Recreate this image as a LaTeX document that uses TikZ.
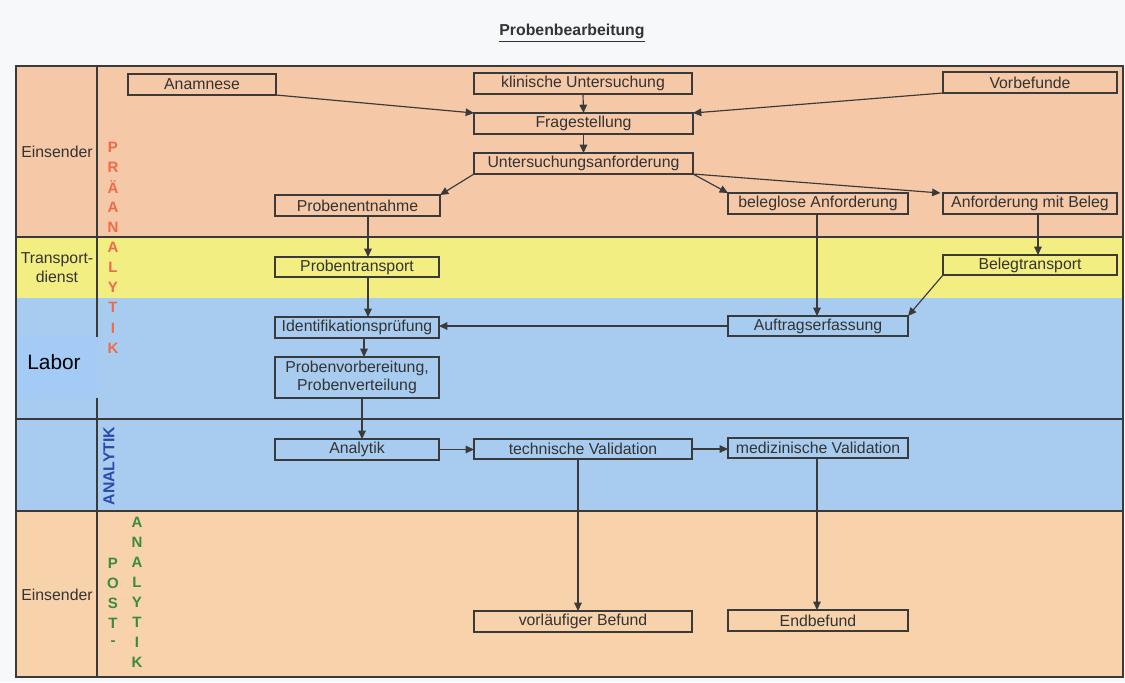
\documentclass[tikz,border=0pt]{standalone}
\usepackage{fontspec}
\setmainfont{Liberation Sans}
\usetikzlibrary{arrows.meta}
\definecolor{bgc}{HTML}{F7F8FA}
\definecolor{peachA}{HTML}{F5C8A8}
\definecolor{peachB}{HTML}{F7D2AA}
\definecolor{yellowband}{HTML}{F3EE82}
\definecolor{blueband}{HTML}{A8CCF0}
\definecolor{laborblue}{HTML}{A4CBF6}
\definecolor{linec}{HTML}{3A3A3A}
\definecolor{txtc}{HTML}{333333}
\definecolor{preorange}{HTML}{F06A4A}
\definecolor{postgreen}{HTML}{3A8C3A}
\definecolor{anablue}{HTML}{2B4AAE}
\newcommand\mybox[6]{\node[box,minimum width={(#4-#2)*0.6pt},minimum height={(#5-#3)*0.6pt}] (#1) at ({(#2+#4)/2},{(#3+#5)/2}) {#6};}
\begin{document}
\begin{tikzpicture}[x=0.6pt,y=-0.6pt,
  box/.style={draw=linec,line width=0.7pt,inner sep=0pt,outer sep=0pt,font=\fontsize{9.5}{11}\selectfont,text=txtc,align=center},
  arr/.style={draw=linec,line width=0.7pt,-{Triangle[length=5pt,width=4.5pt]}},
  sep/.style={draw=linec,line width=1.3pt},
  side/.style={font=\fontsize{9.5}{11.5}\selectfont,text=txtc,align=center},
  pre/.style={font=\bfseries\fontsize{9}{10}\selectfont,text=preorange},
  post/.style={font=\bfseries\fontsize{9}{10}\selectfont,text=postgreen}]
\useasboundingbox (0,0) rectangle (1125,682);
\fill[bgc] (0,0) rectangle (1125,682);
% bands
\fill[peachA] (16,66) rectangle (1123,237);
\fill[yellowband] (16,237) rectangle (1123,298);
\fill[blueband] (16,298) rectangle (1123,511);
\fill[peachB] (16,511) rectangle (1123,677);
% lines
\draw[sep] (16,66) rectangle (1123,677);
\draw[sep] (16,237) -- (1123,237);
\draw[sep] (16,419) -- (1123,419);
\draw[sep] (16,511) -- (1123,511);
\draw[sep] (97,66) -- (97,677);
% Labor patch
\fill[laborblue] (18,337) rectangle (98,398);
\node[font=\fontsize{12.5}{14}\selectfont,text=black] (labor) at (54,362) {Labor};
% title
\node[font=\bfseries\fontsize{9.5}{11}\selectfont,text=txtc] (title) at (572,33) {\underline{Probenbearbeitung}};
% side labels
\node[side] (eins1) at (57,152) {Einsender};
\node[side] (trans) at (57,268) {Transport-\\dienst};
\node[side] (eins2) at (57,595) {Einsender};
% phase letters
\foreach \l [count=\i from 0] in {P,R,Ä,A,N,A,L,Y,T,I,K}
  \node[pre] (pre\i) at (113,147+20.1*\i) {\l};
\foreach \l [count=\i from 0] in {P,O,S,T,-}
  \node[post] (posta\i) at (113,563+20*\i) {\l};
\foreach \l [count=\i from 0] in {A,N,A,L,Y,T,I,K}
  \node[post] (postb\i) at (137,522+20.1*\i) {\l};
\node[font=\bfseries\fontsize{9.5}{11}\selectfont,text=anablue,rotate=90] (ana) at (109,466) {ANALYTIK};
% boxes
\mybox{anam}{128}{74}{276}{95}{Anamnese}
\mybox{klin}{474}{73}{692}{94}{klinische Untersuchung}
\mybox{vorb}{943}{72}{1117}{93}{Vorbefunde}
\mybox{frage}{474}{113}{693}{134}{Fragestellung}
\mybox{unters}{474}{153}{693}{174}{Untersuchungsanforderung}
\mybox{entn}{275}{195}{440}{216}{Probenentnahme}
\mybox{belegl}{728}{193}{908}{214}{beleglose Anforderung}
\mybox{mitbeleg}{943}{193}{1117}{214}{Anforderung mit Beleg}
\mybox{ptrans}{275}{257}{439}{277}{Probentransport}
\mybox{btrans}{943}{255}{1117}{275}{Belegtransport}
\mybox{ident}{275}{317}{439}{338}{Identifikationsprüfung}
\mybox{auftrag}{728}{316}{908}{336}{Auftragserfassung}
\mybox{vorber}{275}{357}{439}{398}{Probenvorbereitung,\\Probenverteilung}
\mybox{analytik}{275}{439}{439}{460}{Analytik}
\mybox{techn}{474}{439}{692}{459}{technische Validation}
\mybox{med}{728}{438}{908}{458}{medizinische Validation}
\mybox{vorl}{474}{611}{692}{632}{vorläufiger Befund}
\mybox{endb}{728}{610}{908}{631}{Endbefund}
% helper x coordinates
\coordinate (x368) at (368,0);
\coordinate (x364) at (364,0);
\coordinate (x362) at (362,0);
\coordinate (x1038) at (1038,0);
\coordinate (x578) at (578,0);
\coordinate (x817) at (817,0);
% connectors
\draw[arr] (anam.south east) -- (frage.north west);
\draw[arr] (klin.south) -- (frage.north);
\draw[arr] (vorb.south west) -- (frage.north east);
\draw[arr] (frage.south) -- (unters.north);
\draw[arr] (unters.south west) -- (entn.north east);
\draw[arr] (unters.south east) -- (belegl.north west);
\draw[arr] (unters.south east) -- ([xshift=-1.5pt]mitbeleg.north west);
\draw[arr] (entn.south -| x368) -- (ptrans.north -| x368);
\draw[arr] (ptrans.south -| x368) -- (ident.north -| x368);
\draw[arr] (ident.south -| x364) -- (vorber.north -| x364);
\draw[arr] (vorber.south -| x362) -- (analytik.north -| x362);
\draw[arr] (belegl.south -| x817) -- (auftrag.north -| x817);
\draw[arr] (mitbeleg.south -| x1038) -- (btrans.north -| x1038);
\draw[arr] (btrans.south west) -- (auftrag.north east);
\draw[arr] (auftrag.west) -- (auftrag.west -| ident.east);
\draw[arr] (analytik.east) -- (analytik.east -| techn.west);
\draw[arr] (techn.east) -- (techn.east -| med.west);
\draw[arr] (techn.south -| x578) -- (vorl.north -| x578);
\draw[arr] (med.south -| x817) -- (endb.north -| x817);
\end{tikzpicture}
\end{document}
